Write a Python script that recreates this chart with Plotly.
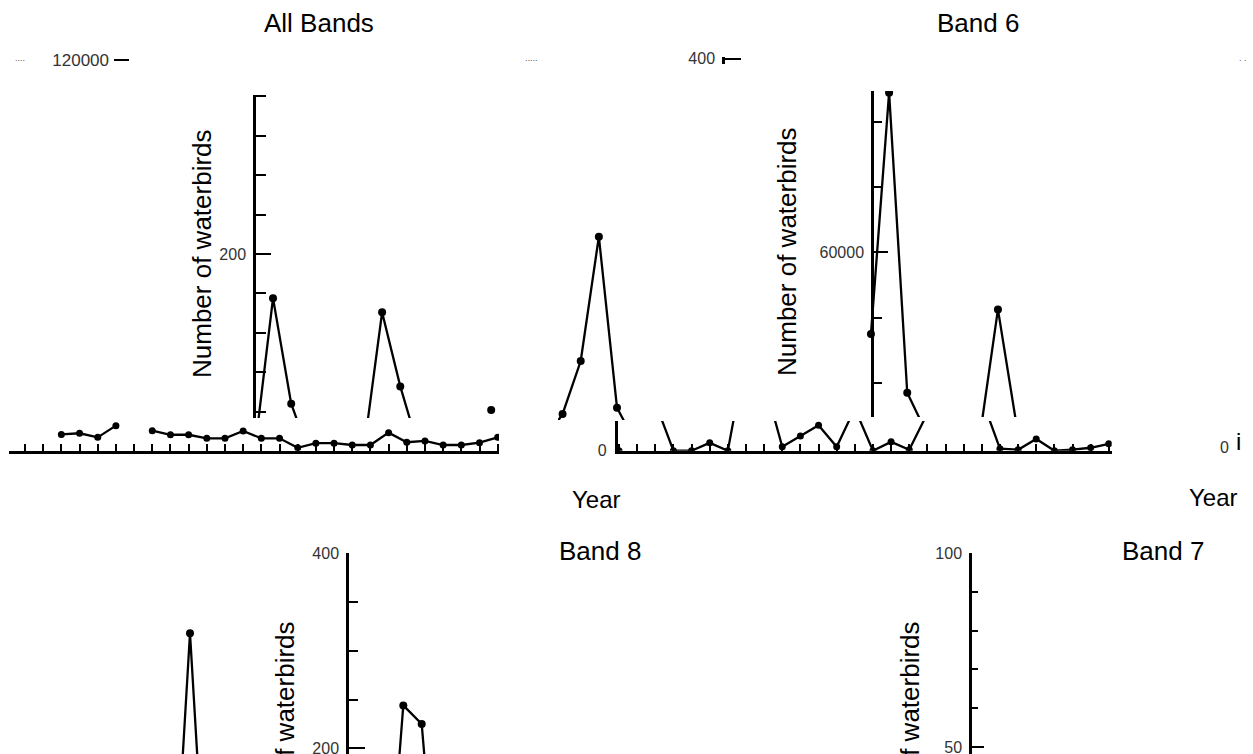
import plotly.graph_objects as go

W, H = 1253, 754

# ---------------- data ----------------
all_years = list(range(1983, 2010))
all_strip_counts = [None, None, 5000, 5350, 4100, 7700, None, 6150, 4900, 4900, 3800, 3800,
                    6050, 3800, 3800, 900, 2300, 2300, 1750, 1750, 5550, 2600, 3000, 1750,
                    1750, 2450, 4100]
all_zoom_counts = [None] * 13 + [76, 172, 105, 73, None, None, 76, 163, 116, 77,
                                 None, None, None, 101]

band6_years = list(range(1979, 2011))
band6_counts = ([2000, 10500, 26700, 64800, 12400, 1900] + [None] * 12 +
                [35000, 108900, 17000, 5400, None, None, 3600, 42500, 8000] + [None] * 5)

band6_strip_years = list(range(1983, 2011))
band6_strip_counts = [0, None, 49, 0, 0, 8, 0, 99, 71, 4, 15, 26, 4, 43, 0, 9, 1, 38,
                      None, None, 53, 2, 1, 12, 0, 1, 3, 7]

band8_years = list(range(1983, 2011))
band8_counts = [None, None, 0, 244, 225, 0] + [None] * 22
band8_inset_counts = [None] * 9 + [0, 318, 0] + [None] * 16

band7_years = list(range(1983, 2011))
band7_counts = [None] * 28

titles = ["All Bands", "Band 6", "Band 8", "Band 7"]
y_title = "Number of waterbirds"
x_title = "Year"

# ---------------- helpers (pixel layout -> paper / axis ranges) ----------------
def xd(p0, p1):
    return [p0 / W, p1 / W]

def yd(top, bot):
    return [1 - bot / H, 1 - top / H]

def xr(p0, p1, ref_px, ref_val, step):
    return [ref_val + (p0 - ref_px) / step, ref_val + (p1 - ref_px) / step]

def yr(top, bot, ref_py, ref_val, ppu):
    return [ref_val + (ref_py - bot) / ppu, ref_val + (ref_py - top) / ppu]

FONT = "Liberation Sans, Arial, sans-serif"
TICKFONT = dict(family=FONT, size=16, color="#333")
LW = 2.3

fig = go.Figure()

def add(x, y, xa, ya, msize=7):
    fig.add_trace(go.Scatter(x=x, y=y, xaxis=xa, yaxis=ya, mode="lines+markers",
                             line=dict(color="black", width=LW),
                             marker=dict(color="black", size=msize),
                             connectgaps=False, hoverinfo="skip"))

add(all_years, all_strip_counts, "x", "y", 7)
add(all_years, all_zoom_counts, "x2", "y2", 8)
add(band6_strip_years, band6_strip_counts, "x3", "y3", 7)
add(band6_years, band6_counts, "x4", "y4", 8)
add(band6_years, band6_counts, "x5", "y5", 8)
add(band8_years, band8_counts, "x6", "y6", 8)
add(band8_years, band8_inset_counts, "x7", "y7", 8)
add(band7_years, band7_counts, "x8", "y8", 8)
# empty trace so the stray top "400" axis stub is drawn
fig.add_trace(go.Scatter(x=[], y=[], xaxis="x9", yaxis="y9", mode="lines", hoverinfo="skip"))

base = dict(showgrid=False, zeroline=False, automargin=False)
hidden = dict(visible=False, showgrid=False, zeroline=False, automargin=False)
ytick = dict(showline=True, linewidth=2.5, linecolor="black", ticks="inside",
             tickwidth=2, tickcolor="black", tickfont=TICKFONT, ticklabelstandoff=4,
             ticklabeloverflow="allow",
             showgrid=False, zeroline=False, automargin=False)
xstrip = dict(showline=True, linewidth=2.5, linecolor="black", ticks="inside",
              ticklen=7, tickwidth=2, tickcolor="black", showticklabels=False,
              showgrid=False, zeroline=False, automargin=False)

layout = dict(
    width=W, height=H, autosize=False,
    margin=dict(l=0, r=0, t=0, b=0, pad=0),
    paper_bgcolor="white", plot_bgcolor="rgba(0,0,0,0)",
    showlegend=False, font=dict(family=FONT, color="black"),
    # All Bands strip
    xaxis=dict(domain=xd(9, 499), range=xr(9, 499, 25, 1983, 18.18), anchor="y",
               tickmode="array", tickvals=all_years, **xstrip),
    yaxis=dict(domain=yd(56, 450.7), range=yr(56, 450.7, 450.7, 0, 390.7 / 120000),
               anchor="free", position=113 / W, showline=False, ticks="inside",
               ticklen=15, tickwidth=2, tickcolor="black", tickmode="array",
               tickvals=[120000], ticktext=["120000"], ticklabeloverflow="allow",
               tickfont=dict(family=FONT, size=17, color="#333"), ticklabelstandoff=4, **base),
    # All Bands zoom window
    xaxis2=dict(domain=xd(256, 500), range=xr(256, 500, 18.5, 1983, 18.18), anchor="y2", **hidden),
    yaxis2=dict(domain=yd(95, 418), range=yr(95, 418, 254, 200, 39.4 / 25), anchor="x2",
                tickmode="array", tickvals=[200], ticklen=15,
                minor=dict(tickmode="array", tickvals=[100, 125, 150, 175, 225, 250, 275, 300],
                           ticks="inside", ticklen=10, tickwidth=2, tickcolor="black"),
                **ytick),
    # Band 6 strip
    xaxis3=dict(domain=xd(617.7, 1111.7), range=xr(617.7, 1111.7, 619, 1983, 18.14), anchor="y3",
                tickmode="array", tickvals=band6_strip_years, **xstrip),
    yaxis3=dict(domain=yd(421, 450.7), range=yr(421, 450.7, 450.7, 0, 392.7 / 400), anchor="x3",
                showline=True, linewidth=2.5, linecolor="black", ticks="",
                tickmode="array", tickvals=[0], ticktext=["0"], tickfont=TICKFONT,
                ticklabelstandoff=5, ticklabeloverflow="allow", **base),
    # Band 6 zoom window
    xaxis4=dict(domain=xd(866, 1112), range=xr(866, 1112, 617, 1983, 18.14), anchor="y4", **hidden),
    yaxis4=dict(domain=yd(91, 417), range=yr(91, 417, 448.2, 0, 65.3 / 20000), anchor="free",
                position=872 / W, tickmode="array", tickvals=[60000], ticktext=["60000"],
                ticklen=14,
                minor=dict(tickmode="array", tickvals=[20000, 40000, 80000, 100000],
                           ticks="inside", ticklen=8, tickwidth=2, tickcolor="black"),
                **ytick),
    # Band 6 left window
    xaxis5=dict(domain=xd(558, 626), range=xr(558, 626, 617, 1983, 18.14), anchor="y5", **hidden),
    yaxis5=dict(domain=yd(91, 420), range=yr(91, 420, 448.2, 0, 65.3 / 20000), anchor="x5", **hidden),
    # Band 8
    xaxis6=dict(domain=xd(349, 900), range=xr(349, 900, 348.1, 1983, 18.4), anchor="y6", **hidden),
    yaxis6=dict(domain=yd(553.3, 754), range=yr(553.3, 754, 553.3, 400, 0.975), anchor="x6",
                tickmode="array", tickvals=[200, 400], ticklen=16,
                minor=dict(tickmode="array", tickvals=[250, 300, 350],
                           ticks="inside", ticklen=9, tickwidth=2, tickcolor="black"),
                **ytick),
    xaxis7=dict(domain=xd(0, 345), range=xr(0, 345, 6, 1983, 18.4), anchor="y7", **hidden),
    yaxis7=dict(domain=yd(553.3, 754), range=yr(553.3, 754, 553.3, 400, 0.975), anchor="x7", **hidden),
    # Band 7
    xaxis8=dict(domain=xd(972, 1253), range=xr(972, 1253, 972, 1983, 18.4), anchor="y8", **hidden),
    yaxis8=dict(domain=yd(553, 754), range=yr(553, 754, 553, 100, 3.88), anchor="x8",
                tickmode="array", tickvals=[50, 100], ticklen=12,
                minor=dict(tickmode="array", tickvals=[60, 70, 80, 90],
                           ticks="inside", ticklen=6, tickwidth=2, tickcolor="black"),
                **ytick),
    # stray "400" top tick
    xaxis9=dict(domain=xd(725, 745), range=[0, 1], anchor="y9", **hidden),
    yaxis9=dict(domain=yd(57, 64), range=yr(57, 64, 58.5, 400, 1.0), anchor="x9",
                tickmode="array", tickvals=[400], ticklen=16, **ytick),
)
fig.update_layout(**layout)

def ann(text, px, py, size=26, angle=0, color="black"):
    fig.add_annotation(text=text, x=px / W, y=1 - py / H, xref="paper", yref="paper",
                       showarrow=False, textangle=angle, xanchor="center", yanchor="middle",
                       font=dict(family=FONT, size=size, color=color))

ann(titles[0], 319, 23)
ann(titles[1], 978, 23)
ann(titles[2], 600, 551)
ann(titles[3], 1163, 551)
ann(y_title, 201.5, 253.5, angle=-90)
ann(y_title, 787, 252, angle=-90)
ann(y_title, 285, 746, angle=-90)
ann(y_title, 910, 746, angle=-90)
ann(x_title, 596, 499, size=24)
ann(x_title, 1213, 498, size=24)
ann("0", 1224, 447, size=16, color="#333")
ann("i", 1238, 441, size=24)
ann("....", 20, 58, size=9, color="#555")
ann(".....", 531, 58, size=9, color="#555")
ann(". .", 1243, 58, size=9, color="#555")

fig.write_html("out.html", config={"displayModeBar": False},
               post_script="document.body.style.margin='0';document.body.style.overflow='hidden';")
